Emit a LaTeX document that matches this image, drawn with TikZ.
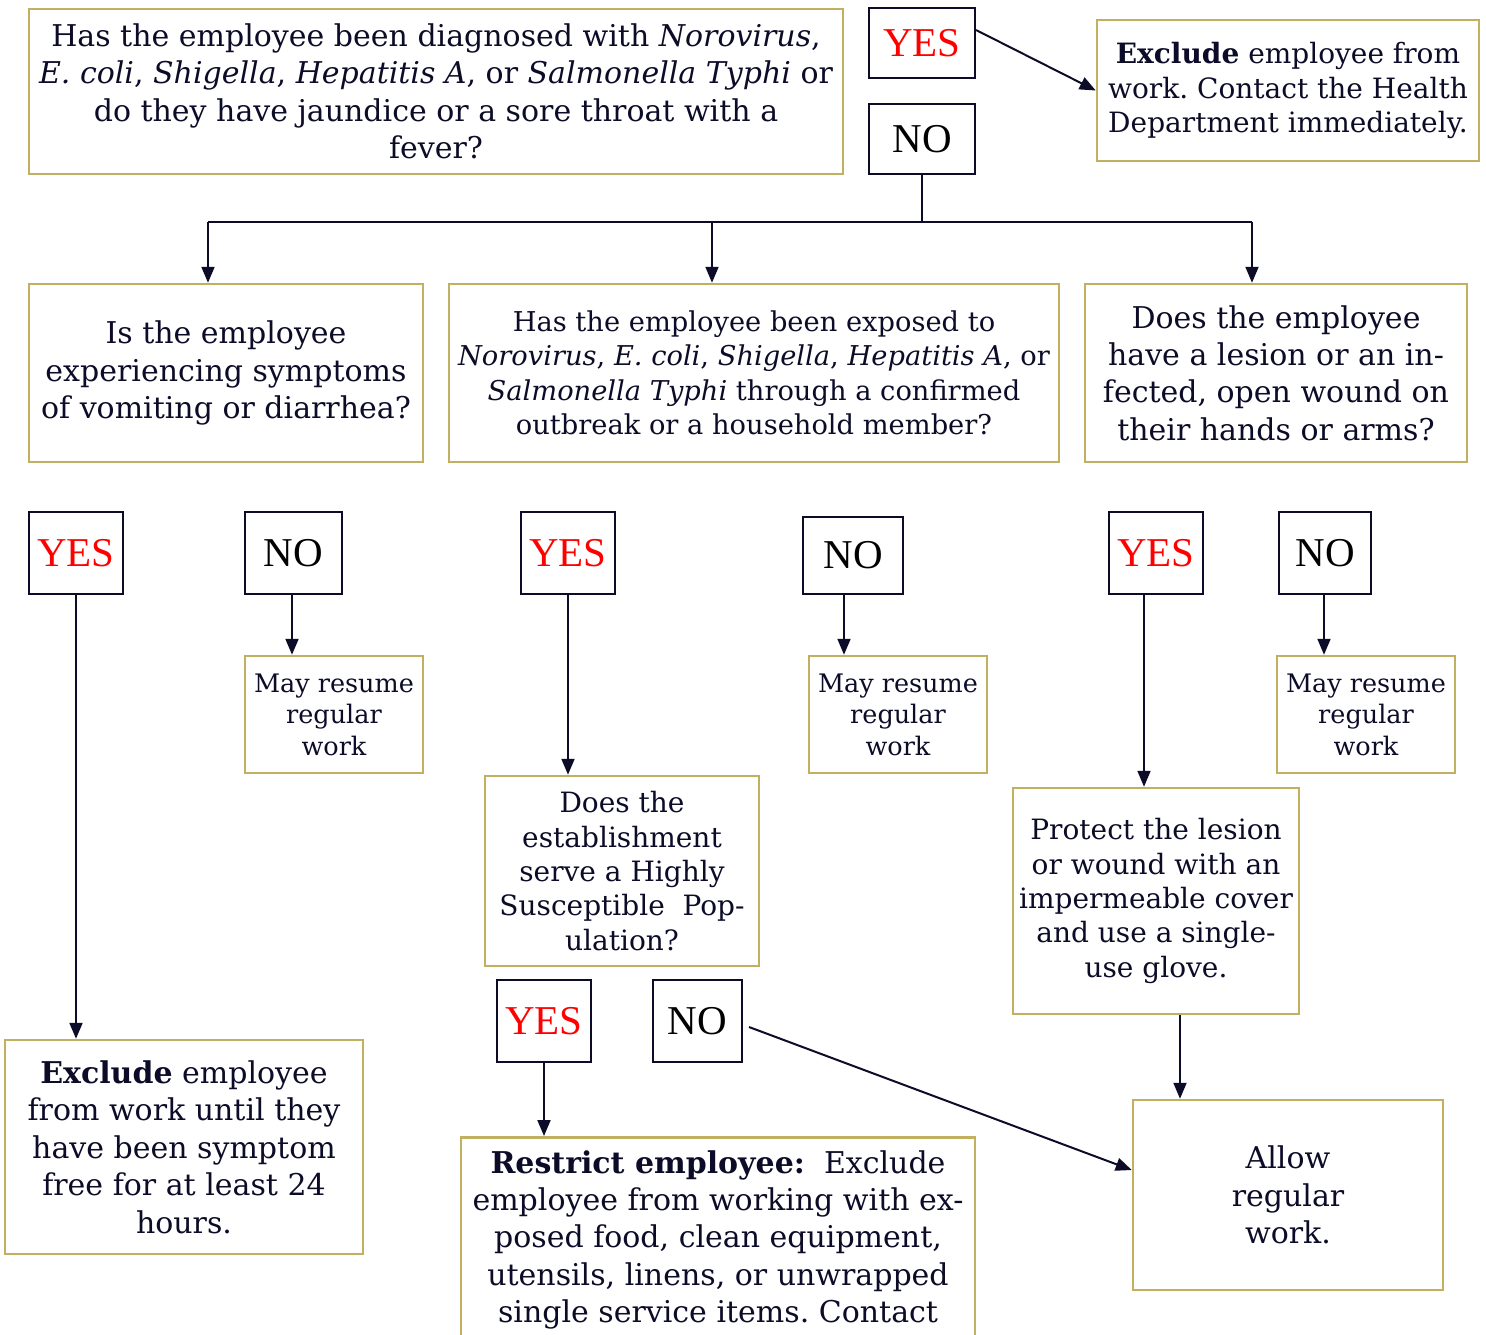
\documentclass[tikz,border=0pt]{standalone}
\usepackage{fontspec}
\setmainfont{DejaVu Serif}
\newfontfamily\ynfont{Liberation Serif}
\usetikzlibrary{arrows.meta}
\definecolor{ink}{RGB}{12,12,40}
\definecolor{gold}{RGB}{192,176,96}
\definecolor{yesred}{RGB}{255,0,0}
\frenchspacing
\begin{document}
\begin{tikzpicture}[x=1pt,y=-1pt,
  gbox/.style={draw=gold, line width=2.5pt, inner sep=0pt, align=center, text=ink},
  ynbox/.style={draw=ink, line width=2pt, inner sep=0pt, font=\ynfont\fontsize{41}{43}\selectfont},
  yesbox/.style={ynbox, text=yesred},
  nobox/.style={ynbox, text=black},
  arr/.style={draw=ink, line width=2pt, -{Triangle[length=16pt,width=13pt]}},
  ln/.style={draw=ink, line width=2pt},
  ftA/.style={font=\frenchspacing\fontsize{30}{37.4}\selectfont},
  ftB/.style={font=\frenchspacing\fontsize{28}{34.4}\selectfont},
  ftD/.style={font=\frenchspacing\fontsize{27.3}{34.4}\selectfont},
  ftC/.style={font=\frenchspacing\fontsize{25.5}{31.5}\selectfont}]
\useasboundingbox (0,0) rectangle (1486,1334);

% top row
\node[gbox, ftA, minimum width=814pt, minimum height=165pt] (q1) at (436,91.5)
 {Has the employee been diagnosed with \textit{Norovirus},\\
  \textit{E. coli}, \textit{Shigella}, \textit{Hepatitis A}, or \textit{Salmonella Typhi} or\\
  do they have jaundice or a sore throat with a\\ fever?};
\node[yesbox, minimum width=106pt, minimum height=70pt] (y1) at (922,43) {YES};
\node[nobox, minimum width=106pt, minimum height=70pt] (n1) at (922,139) {NO};
\node[gbox, ftB, minimum width=382pt, minimum height=141pt] (ex1) at (1288,90.5)
 {\textbf{Exclude} employee from\\ work. Contact the Health\\ Department immediately.};

% second row questions
\node[gbox, ftA, minimum width=394pt, minimum height=178pt] (q2) at (226,373)
 {Is the employee\\ experiencing symptoms\\ of vomiting or diarrhea?};
\node[gbox, ftD, minimum width=610pt, minimum height=178pt] (q3) at (754,373)
 {Has the employee been exposed to\\
  \textit{Norovirus}, \textit{E. coli}, \textit{Shigella}, \textit{Hepatitis A}, or\\
  \textit{Salmonella Typhi} through a confirmed\\ outbreak or a household member?};
\node[gbox, ftA, minimum width=382pt, minimum height=178pt] (q4) at (1276,373)
 {Does the employee\\ have a lesion or an in-\\ fected, open wound on\\ their hands or arms?};

% yes/no row
\node[yesbox, minimum width=94pt, minimum height=82pt] (y2) at (76,553) {YES};
\node[nobox, minimum width=97pt, minimum height=82pt] (n2) at (293.5,553) {NO};
\node[yesbox, minimum width=94pt, minimum height=82pt] (y3) at (568,553) {YES};
\node[nobox, minimum width=100pt, minimum height=77pt] (n3) at (853,555.5) {NO};
\node[yesbox, minimum width=94pt, minimum height=82pt] (y4) at (1156,553) {YES};
\node[nobox, minimum width=92pt, minimum height=82pt] (n4) at (1325,553) {NO};

% may resume
\node[gbox, ftC, minimum width=178pt, minimum height=117pt] (m2) at (334,714.5) {May resume\\ regular\\ work};
\node[gbox, ftC, minimum width=178pt, minimum height=117pt] (m3) at (898,714.5) {May resume\\ regular\\ work};
\node[gbox, ftC, minimum width=178pt, minimum height=117pt] (m4) at (1366,714.5) {May resume\\ regular\\ work};

% lower boxes
\node[gbox, ftA, minimum width=358pt, minimum height=214pt] (ex2) at (184,1147)
 {\textbf{Exclude} employee\\ from work until they\\ have been symptom\\ free for at least 24\\ hours.};
\node[gbox, ftB, minimum width=274pt, minimum height=190pt] (q5) at (622,871)
 {Does the\\ establishment\\ serve a Highly\\ Susceptible\ \ Pop-\\ ulation?};
\node[gbox, ftB, minimum width=286pt, minimum height=226pt] (prot) at (1156,901)
 {Protect the lesion\\ or wound with an\\ impermeable cover\\ and use a single-\\ use glove.};
\node[gbox, ftA, minimum width=310pt, minimum height=190pt] (allow) at (1288,1195)
 {Allow\\ regular\\ work.};
\node[yesbox, minimum width=94pt, minimum height=82pt] (y5) at (544,1021) {YES};
\node[nobox, minimum width=89pt, minimum height=82pt] (n5) at (697.5,1021) {NO};
\node[gbox, ftA, minimum width=514pt, anchor=north, inner ysep=13pt] (rs) at (718,1136)
 {\textbf{Restrict employee:}\ \ Exclude\\ employee from working with ex-\\
  posed food, clean equipment,\\ utensils, linens, or unwrapped\\ single service items. Contact\\ \mbox{}\\ \mbox{}};

% connectors
\draw[arr] ([yshift=13pt]y1.east) -- (ex1.west);
\coordinate (j1) at (n1.south |- 0,222);
\draw[ln] (n1.south) -- (j1);
\draw[ln] ([xshift=-18pt]q2.north |- j1) -- ([xshift=-24pt]q4.north |- j1);
\draw[arr] ([xshift=-18pt]q2.north |- j1) -- ([xshift=-18pt]q2.north);
\draw[arr] ([xshift=-42pt]q3.north |- j1) -- ([xshift=-42pt]q3.north);
\draw[arr] ([xshift=-24pt]q4.north |- j1) -- ([xshift=-24pt]q4.north);

\draw[arr] (y2.south) -- (y2.south |- ex2.north);
\draw[arr] ([xshift=-1.5pt]n2.south) -- ([xshift=-1.5pt]n2.south |- m2.north);
\draw[arr] (y3.south) -- (y3.south |- q5.north);
\draw[arr] ([xshift=-9pt]n3.south) -- ([xshift=-9pt]n3.south |- m3.north);
\draw[arr] ([xshift=-12pt]y4.south) -- ([xshift=-12pt]y4.south |- prot.north);
\draw[arr] ([xshift=-1pt]n4.south) -- ([xshift=-1pt]n4.south |- m4.north);
\draw[arr] ([xshift=24pt]prot.south) -- ([xshift=24pt]prot.south |- allow.north);
\draw[arr] (y5.south) -- (y5.south |- rs.north);
\draw[arr] ([xshift=6pt,yshift=-6pt]n5.east) -- ([yshift=25pt]allow.west);
\end{tikzpicture}
\end{document}
